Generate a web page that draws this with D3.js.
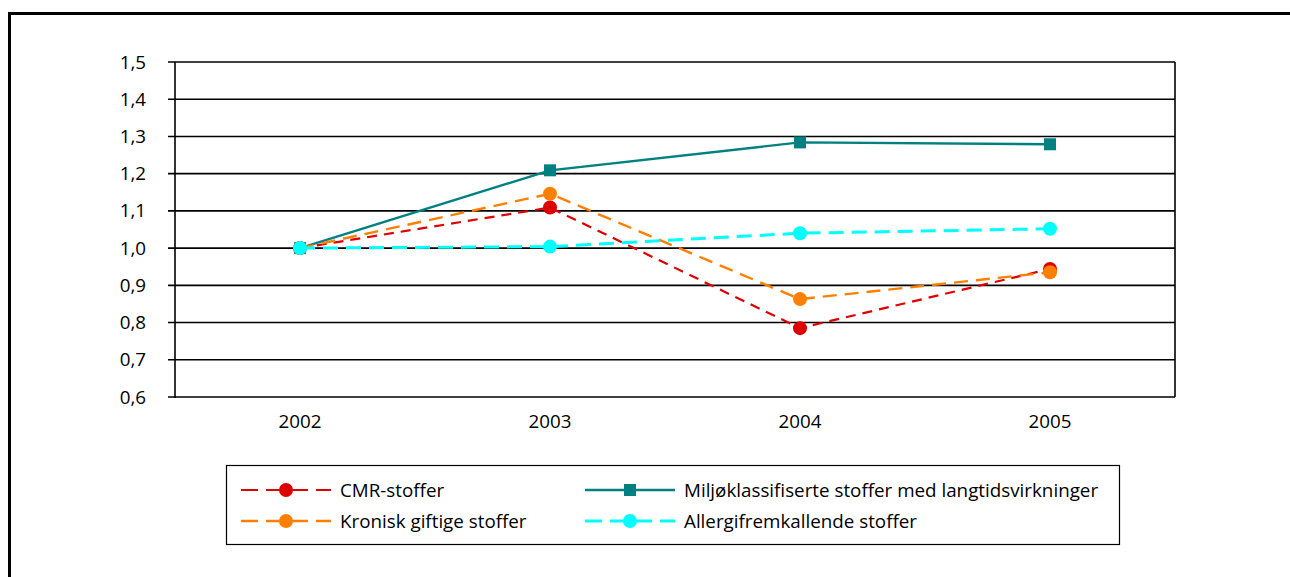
<!DOCTYPE html>
<html>
<head>
<meta charset="utf-8">
<script src="https://cdn.jsdelivr.net/npm/d3@7"></script>
<style>
  html, body { margin: 0; padding: 0; background: #fff; overflow: hidden; }
  svg { display: block; font-family: "Open Sans", sans-serif; }
</style>
</head>
<body>
<svg id="chart" width="1290" height="577"></svg>
<script>
// Indexed development (2002 = 1,0)
const years = ["2002", "2003", "2004", "2005"];
const yTicks = [0.6, 0.7, 0.8, 0.9, 1.0, 1.1, 1.2, 1.3, 1.4, 1.5];

const cmr        = [1.0, 1.109, 0.785, 0.944];
const kronisk    = [1.0, 1.146, 0.863, 0.935];
const miljo      = [1.0, 1.209, 1.284, 1.279];
const allergi    = [1.0, 1.004, 1.040, 1.052];

const seriesNames = [
  "CMR-stoffer",
  "Miljøklassifiserte stoffer med langtidsvirkninger",
  "Kronisk giftige stoffer",
  "Allergifremkallende stoffer"
];

const series = {
  cmr:     { name: seriesNames[0], values: cmr,     color: "#dd0000", dash: "10,7", width: 2.2, marker: "circle" },
  miljo:   { name: seriesNames[1], values: miljo,   color: "#008080", dash: null,   width: 2.4, marker: "square" },
  kronisk: { name: seriesNames[2], values: kronisk, color: "#ff8000", dash: "14,8", width: 2.4, marker: "circle" },
  allergi: { name: seriesNames[3], values: allergi, color: "#00ffff", dash: "15,8", width: 3,   marker: "circle" }
};
// drawing order (later ones on top)
const drawOrder = ["miljo", "cmr", "kronisk", "allergi"];

const fontSize = 18.8;
const fontFamily = "'Open Sans', sans-serif";
const svg = d3.select("#chart");

// outer frame (left and top edges)
svg.append("path")
  .attr("d", "M9.5,700 V13.5 H1300")
  .attr("fill", "none").attr("stroke", "#000").attr("stroke-width", 3);

const plot = { left: 175, right: 1175, top: 62, bottom: 397 };

const x = d3.scaleBand().domain(years).range([plot.left, plot.right]);
const y = d3.scaleLinear().domain([0.6, 1.5]).range([plot.bottom, plot.top]);
const cx = d => x(d) + x.bandwidth() / 2;

// gridlines
svg.append("g")
  .selectAll("line")
  .data(yTicks)
  .join("line")
  .attr("x1", plot.left - 7).attr("x2", plot.right)
  .attr("y1", d => y(d)).attr("y2", d => y(d))
  .attr("stroke", "#000").attr("stroke-width", 1.6);

// plot area verticals
svg.append("line")
  .attr("x1", plot.left).attr("x2", plot.left)
  .attr("y1", plot.top).attr("y2", plot.bottom + 1)
  .attr("stroke", "#000").attr("stroke-width", 1.6);
svg.append("line")
  .attr("x1", plot.right).attr("x2", plot.right)
  .attr("y1", plot.top).attr("y2", plot.bottom)
  .attr("stroke", "#000").attr("stroke-width", 1.6);

// y axis labels
const fmt = d => d3.format(".1f")(d).replace(".", ",");
const yAxis = d3.axisLeft(y).tickValues(yTicks).tickFormat(fmt).tickSize(0).tickPadding(29);
svg.append("g")
  .attr("transform", `translate(${plot.left},0)`)
  .call(yAxis)
  .call(g => g.select(".domain").remove())
  .selectAll("text")
  .attr("font-size", fontSize).attr("fill", "#000")
  .attr("font-family", fontFamily);

// x axis labels
const xAxis = d3.axisBottom(x).tickSize(0).tickPadding(18);
svg.append("g")
  .attr("transform", `translate(0,${plot.bottom})`)
  .call(xAxis)
  .call(g => g.select(".domain").remove())
  .selectAll("text")
  .attr("font-size", fontSize).attr("fill", "#000")
  .attr("font-family", fontFamily);

// series lines and markers
const line = d3.line().x((d, i) => cx(years[i])).y(d => y(d));

drawOrder.map(k => series[k]).forEach(s => {
  svg.append("path")
    .datum(s.values)
    .attr("d", line)
    .attr("fill", "none")
    .attr("stroke", s.color)
    .attr("stroke-width", s.width)
    .attr("stroke-dasharray", s.dash);
  const g = svg.append("g");
  if (s.marker === "circle") {
    g.selectAll("circle").data(s.values).join("circle")
      .attr("cx", (d, i) => cx(years[i])).attr("cy", d => y(d))
      .attr("r", 7).attr("fill", s.color);
  } else {
    g.selectAll("rect").data(s.values).join("rect")
      .attr("x", (d, i) => cx(years[i]) - 6).attr("y", d => y(d) - 6)
      .attr("width", 12).attr("height", 12).attr("fill", s.color);
  }
});

// legend
const legend = svg.append("g");
legend.append("rect")
  .attr("x", 226.5).attr("y", 465.5).attr("width", 893).attr("height", 79)
  .attr("fill", "#fff").attr("stroke", "#000").attr("stroke-width", 1.2);

const legendItems = [
  { s: series.cmr,     x: 241, y: 490 },
  { s: series.miljo,   x: 585, y: 490 },
  { s: series.kronisk, x: 241, y: 521 },
  { s: series.allergi, x: 585, y: 521 }
];

legendItems.forEach(it => {
  const s = it.s;
  legend.append("line")
    .attr("x1", it.x).attr("x2", it.x + 90)
    .attr("y1", it.y).attr("y2", it.y)
    .attr("stroke", s.color).attr("stroke-width", s.width)
    .attr("stroke-dasharray", s.dash ? "17,8" : null);
  if (s.marker === "circle") {
    legend.append("circle").attr("cx", it.x + 45).attr("cy", it.y).attr("r", 7).attr("fill", s.color);
  } else {
    legend.append("rect").attr("x", it.x + 45 - 6).attr("y", it.y - 6)
      .attr("width", 12).attr("height", 12).attr("fill", s.color);
  }
  legend.append("text")
    .attr("x", it.x + 99).attr("y", it.y)
    .attr("dy", "0.35em")
    .attr("font-size", fontSize)
    .attr("font-family", fontFamily)
    .text(s.name);
});
</script>
</body>
</html>
